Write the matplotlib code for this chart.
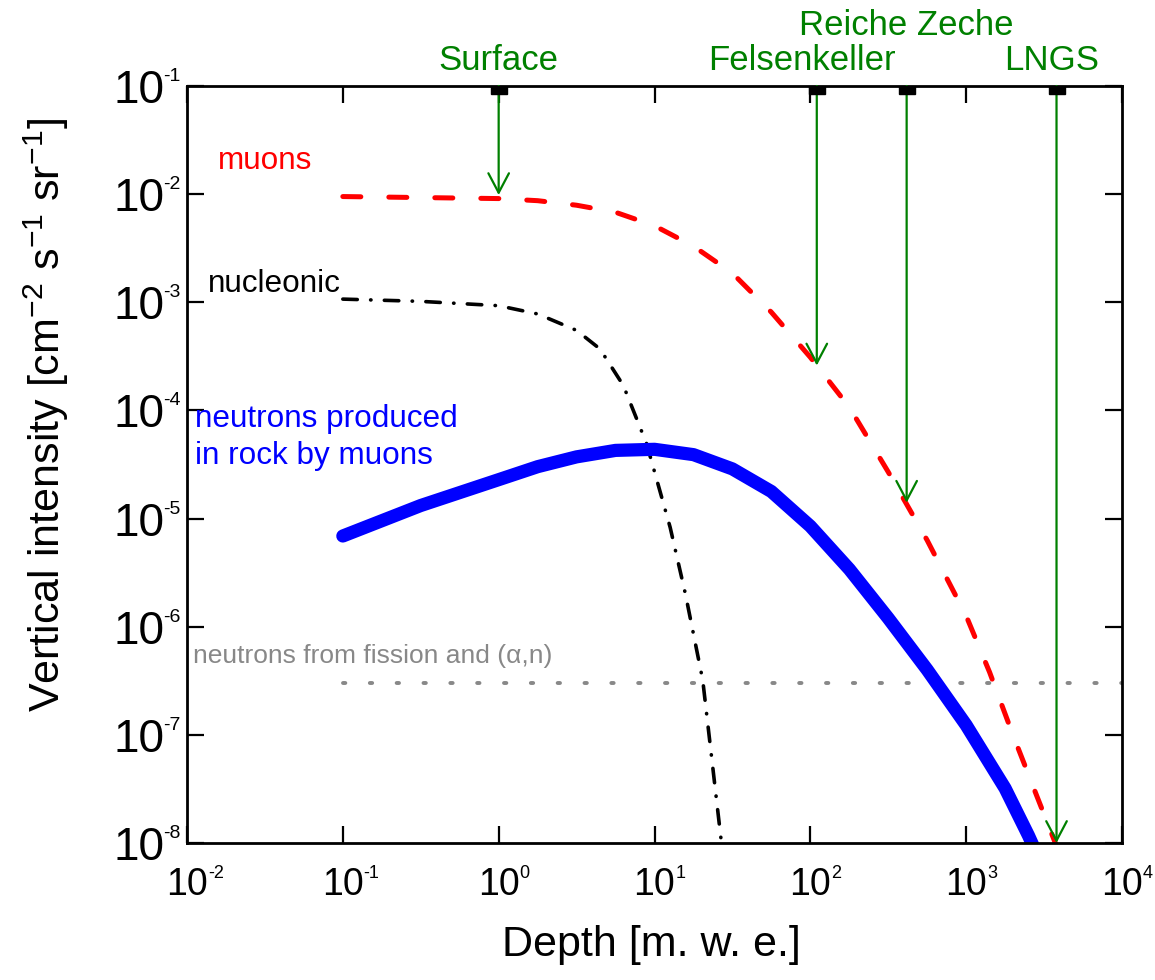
import matplotlib
matplotlib.use("Agg")
import matplotlib.pyplot as plt
from matplotlib.ticker import FixedLocator, NullLocator, FuncFormatter

plt.rcParams['font.family'] = ['Liberation Sans', 'DejaVu Sans']
plt.rcParams['mathtext.default'] = 'regular'

# ---- data (depth in m.w.e., intensity in cm^-2 s^-1 sr^-1) ----
muon_depth = [0.1, 0.316, 1, 1.78, 3.16, 5.62, 10, 17.8, 31.6, 56.2, 100, 178,
              316, 562, 1000, 1413, 1995, 2818, 3981]
muon_flux = [9.5e-3, 9.3e-3, 9.1e-3, 8.7e-3, 7.9e-3, 6.8e-3, 5.1e-3, 3.3e-3,
             1.86e-3, 8.1e-4, 3.1e-4, 1.07e-4, 2.7e-5, 6.3e-6, 1.26e-6, 3.8e-7,
             1.0e-7, 2.8e-8, 7.9e-9]

nucl_depth = [0.1, 0.316, 1, 1.78, 3.16, 4.47, 6.31, 8.91, 12.6, 15.8, 20.4, 26.9]
nucl_flux = [1.07e-3, 1.02e-3, 9.3e-4, 7.8e-4, 5.5e-4, 3.7e-4, 1.7e-4, 4.9e-5,
             8.3e-6, 2.0e-6, 3.2e-7, 1.0e-8]

neut_depth = [0.1, 0.316, 1, 1.78, 3.16, 5.62, 10, 17.8, 31.6, 56.2, 100, 178,
              316, 562, 1000, 1778, 2512, 3162]
neut_flux = [6.9e-6, 1.32e-5, 2.29e-5, 3.02e-5, 3.72e-5, 4.27e-5, 4.37e-5, 3.9e-5,
             2.88e-5, 1.78e-5, 8.5e-6, 3.4e-6, 1.2e-6, 4.0e-7, 1.23e-7, 3.2e-8,
             1.17e-8, 5.6e-9]

fission_depth = [0.1, 1e4]
fission_flux = [3e-7, 3e-7]

# underground sites: name, depth, where the arrow ends
sites = ['Surface', 'Felsenkeller', 'Reiche Zeche', 'LNGS']
site_depth = [1, 110, 415, 3800]
site_tip = [9.8e-3, 2.6e-4, 1.4e-5, 1e-8]

# tick labels: decades, written as 10 with a small raised exponent
x_exp = [-2, -1, 0, 1, 2, 3, 4]
y_exp = [-8, -7, -6, -5, -4, -3, -2, -1]

fig = plt.figure(figsize=(11.55, 9.8), dpi=100)
ax = fig.add_axes([187 / 1155, 1 - 843 / 980, 935 / 1155, 757 / 980])
ax.set_xscale('log')
ax.set_yscale('log')
ax.set_xlim(1e-2, 1e4)
ax.set_ylim(1e-8, 1e-1)

ax.plot(fission_depth, fission_flux, color='#888888', lw=2.8,
        dashes=(0.6, 6.3), dash_capstyle='round')
ax.plot(nucl_depth, nucl_flux, color='black', lw=2.6,
        dashes=(4, 3.7, 0.1, 3.7), dash_capstyle='round')
ax.plot(neut_depth, neut_flux, color='blue', lw=9.5, solid_capstyle='round',
        solid_joinstyle='round')
ax.plot(muon_depth, muon_flux, color='red', lw=3.6,
        dashes=(3.6, 5.6), dash_capstyle='round')

# arrows to the sites
for name, d, tip in zip(sites, site_depth, site_tip):
    ax.annotate('', xy=(d, tip), xytext=(d, 1e-1),
                arrowprops=dict(arrowstyle='->,head_length=0.7,head_width=0.37',
                                color='green', lw=1.6, shrinkA=0, shrinkB=0,
                                mutation_scale=20))
ax.plot(site_depth, [1e-1] * len(site_depth), 's', ms=11, color='black',
        clip_on=True, zorder=5)

tr = ax.get_xaxis_transform()
label_y = [1.021, 1.021, 1.0674, 1.021]
label_dx = [1.0, 0.8, 1.0, 0.93]
for name, d, y, f in zip(sites, site_depth, label_y, label_dx):
    ax.text(d * f, y, name, transform=tr, ha='center', va='baseline',
            fontsize=25, color='green', clip_on=False)

# curve labels
ax.text(0.0332, 0.8904, 'muons', transform=ax.transAxes, fontsize=22.7,
        color='red', va='baseline')
ax.text(0.0225, 0.7279, 'nucleonic', transform=ax.transAxes, fontsize=22.7,
        color='black', va='baseline')
ax.text(0.0086, 0.5495, 'neutrons produced', transform=ax.transAxes,
        fontsize=22.7, color='blue', va='baseline')
ax.text(0.0086, 0.5007, 'in rock by muons', transform=ax.transAxes,
        fontsize=22.7, color='blue', va='baseline')
ax.text(0.0064, 0.2378, 'neutrons from fission and (α,n)', transform=ax.transAxes,
        fontsize=19, color='#888888', va='baseline')

# axes styling
ax.xaxis.set_major_locator(FixedLocator([10.0 ** e for e in x_exp]))
ax.yaxis.set_major_locator(FixedLocator([10.0 ** e for e in y_exp]))
ax.xaxis.set_minor_locator(NullLocator())
ax.yaxis.set_minor_locator(NullLocator())
ax.xaxis.set_major_formatter(FuncFormatter(lambda v, p: '10'))
ax.yaxis.set_major_formatter(FuncFormatter(lambda v, p: '10'))
for s in ax.spines.values():
    s.set_linewidth(2)
ax.tick_params(which='major', direction='in', length=12, width=1.6,
               top=True, right=True)
ax.tick_params(axis='x', labelsize=27, pad=17)
ax.tick_params(axis='y', labelsize=33, pad=16.5)

# small exponents next to each "10"
for e in x_exp:
    ax.annotate(str(e), xy=(10.0 ** e, 0), xycoords=ax.get_xaxis_transform(),
                xytext=(15, -25), textcoords='offset points', fontsize=13,
                ha='left', va='baseline', annotation_clip=False)
for e in y_exp:
    ax.annotate(str(e), xy=(0, 10.0 ** e), xycoords=ax.get_yaxis_transform(),
                xytext=(-17.5, 3.6), textcoords='offset points', fontsize=14,
                ha='left', va='baseline', annotation_clip=False)

ax.set_xlabel('Depth [m. w. e.]', fontsize=31, va='center')
ax.xaxis.set_label_coords(0.497, -0.135)
ax.set_ylabel('Vertical intensity [cm$^{-2}$ s$^{-1}$ sr$^{-1}$]', fontsize=31,
              va='center')
ax.yaxis.set_label_coords(-0.150, 0.565)

fig.savefig('out.png', dpi=100)
